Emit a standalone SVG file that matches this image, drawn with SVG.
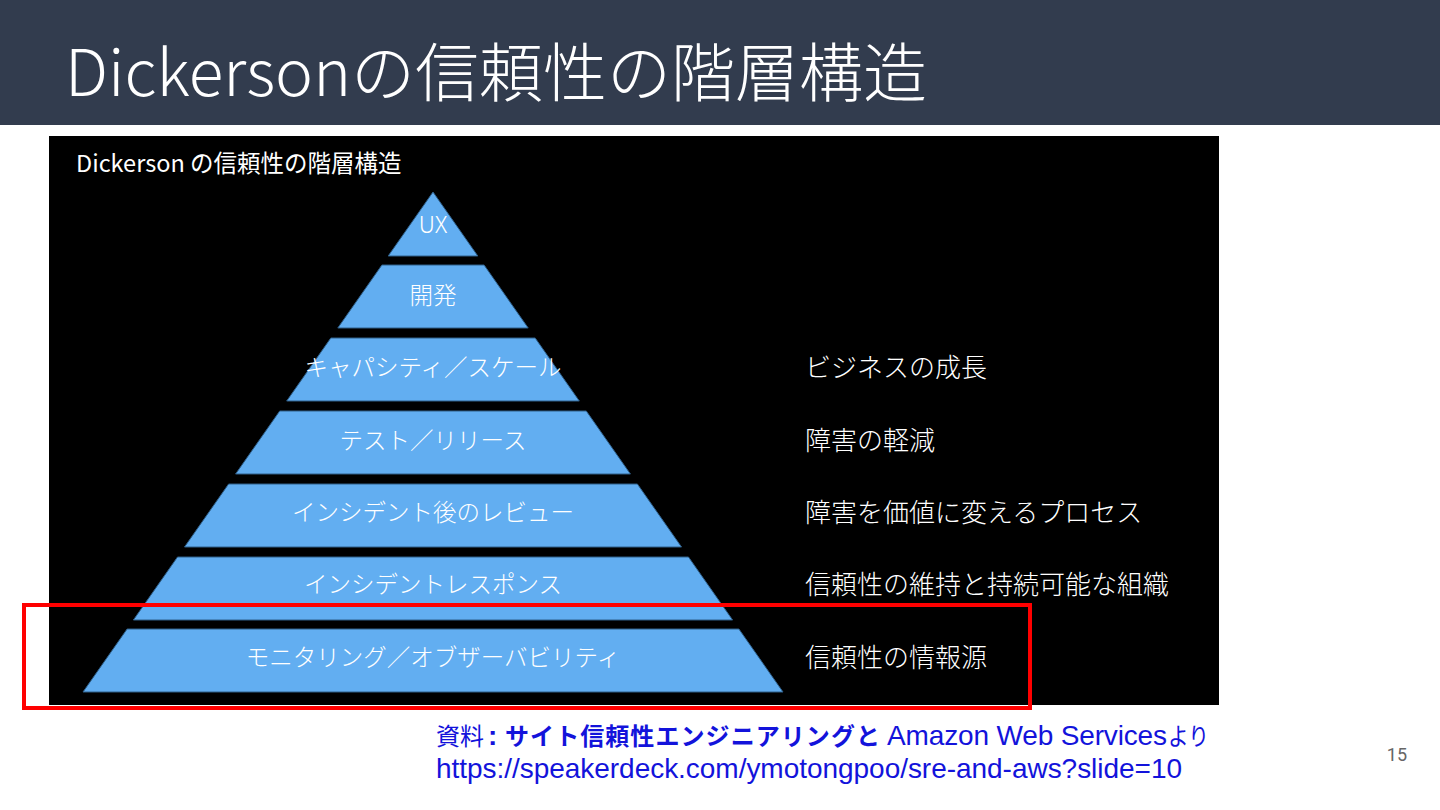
<svg xmlns="http://www.w3.org/2000/svg" width="1440" height="810" viewBox="0 0 1440 810">
<defs>
<style>
.layer{fill:#62AEF1;stroke:#2E5E88;stroke-width:1}
.lt{font-family:"Noto Sans CJK JP","Noto Sans",sans-serif;font-weight:300;font-size:23.5px;fill:#FFFFFF;text-anchor:middle;dominant-baseline:central}
.rt{font-family:"Noto Sans CJK JP","Noto Sans",sans-serif;font-weight:300;font-size:26px;fill:#FFFFFF;dominant-baseline:central}
.src{font-family:"Liberation Sans",Arial,sans-serif;font-size:28px;fill:#1313DB}
.srcj{font-family:"Noto Sans CJK JP",sans-serif;font-size:24px;fill:#1313DB}
</style>
</defs>
<rect x="0" y="0" width="1440" height="810" fill="#FFFFFF"/>
<g id="header">
<rect x="0" y="0" width="1440" height="125" fill="#323C4E"/>
<text x="65" y="96" font-family="'Noto Sans CJK JP','Noto Sans',sans-serif" font-weight="300" font-size="64" fill="#FFFFFF">Dickersonの信頼性の階層構造</text>
</g>
<g id="image-panel">
<rect x="49" y="136" width="1170" height="569" fill="#000000"/>
<text x="76" y="172" font-family="'Noto Sans CJK JP','Noto Sans',sans-serif" font-weight="400" font-size="23.5" fill="#FFFFFF">Dickerson の信頼性の階層構造</text>
</g>
<g id="layer-ux">
<polygon class="layer" points="433,192 477.8,256 388.2,256"/>
<text class="lt" x="433" y="223">UX</text>
</g>
<g id="layer-dev">
<polygon class="layer" points="381.9,265 484.1,265 528.2,328 337.8,328"/>
<text class="lt" x="433" y="294">開発</text>
</g>
<g id="layer-capacity">
<polygon class="layer" points="330.8,338 535.2,338 579.3,401 286.7,401"/>
<text class="lt" x="433" y="366">キャパシティ／スケール</text>
</g>
<g id="layer-test">
<polygon class="layer" points="279.7,411 586.3,411 630.4,474 235.6,474"/>
<text class="lt" x="433" y="439">テスト／リリース</text>
</g>
<g id="layer-postmortem">
<polygon class="layer" points="228.6,484 637.4,484 681.5,547 184.5,547"/>
<text class="lt" x="433" y="511">インシデント後のレビュー</text>
</g>
<g id="layer-incident">
<polygon class="layer" points="177.5,557 688.5,557 732.6,620 133.4,620"/>
<text class="lt" x="433" y="583">インシデントレスポンス</text>
</g>
<g id="layer-monitoring">
<polygon class="layer" points="127.1,629 738.9,629 783,692 83,692"/>
<text class="lt" x="433" y="656">モニタリング／オブザーバビリティ</text>
</g>
<g id="labels">
<text class="rt" x="805" y="365">ビジネスの成長</text>
<text class="rt" x="805" y="438">障害の軽減</text>
<text class="rt" x="805" y="510">障害を価値に変えるプロセス</text>
<text class="rt" x="805" y="582">信頼性の維持と持続可能な組織</text>
<text class="rt" x="805" y="655">信頼性の情報源</text>
</g>
<g id="connectors"/>
<g id="highlight">
<rect x="24" y="605" width="1006" height="103" fill="none" stroke="#FF0000" stroke-width="4"/>
</g>
<g id="source">
<text class="srcj" x="436" y="745">資料</text>
<text class="src" x="488" y="745" font-weight="bold">:</text>
<text class="srcj" x="505" y="745" font-size="25" font-weight="bold" textLength="375">サイト信頼性エンジニアリングと</text>
<text class="src" x="887" y="745" textLength="280">Amazon Web Services</text>
<text class="srcj" x="1168" y="745" textLength="41" lengthAdjust="spacingAndGlyphs">より</text>
<text class="src" x="436" y="778" textLength="746">https://speakerdeck.com/ymotongpoo/sre-and-aws?slide=10</text>
</g>
<g id="page-number">
<text x="1407" y="761" text-anchor="end" font-family="Roboto,'Liberation Sans',sans-serif" font-size="18" fill="#666666">15</text>
</g>
</svg>
